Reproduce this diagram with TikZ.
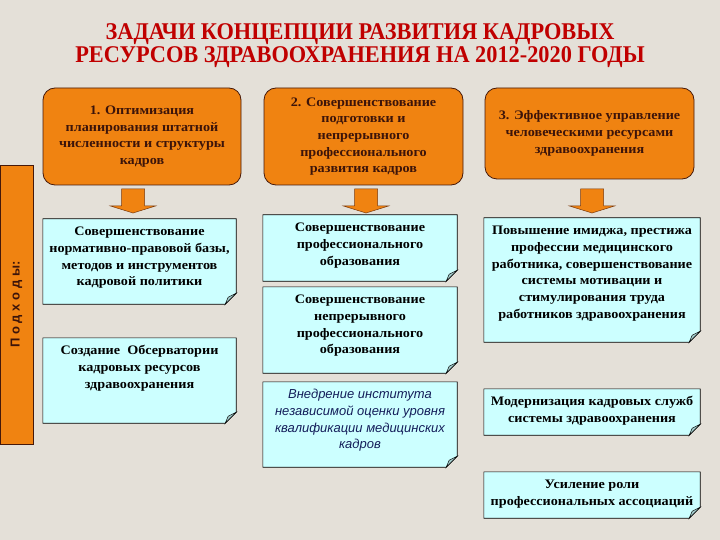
\documentclass[tikz,border=0pt]{standalone}
\usepackage{fontspec}
\setmainfont{Liberation Serif}[FakeStretch=1.09]
\newfontfamily\titlefont{Liberation Serif}[FakeStretch=0.93]
\newfontfamily\barfont{Liberation Sans}[WordSpace=2.8]
\newfontfamily\notefont{Liberation Sans}

\definecolor{pagebg}{RGB}{228,224,216}
\definecolor{titlered}{RGB}{192,0,0}
\definecolor{taskfill}{RGB}{240,131,17}
\definecolor{taskedge}{RGB}{70,25,10}
\definecolor{tasktext}{RGB}{60,20,10}
\definecolor{notefill}{RGB}{204,255,255}
\definecolor{notefold}{RGB}{163,204,204}
\definecolor{notenavy}{RGB}{20,30,90}

\newcommand{\bodyfont}{\fontsize{13}{16.7}\selectfont\bfseries}
% text of a note, hung from the top of its box
\newcommand{\notebody}[3]{\parbox[c][#2][t]{#1}{\centering\strut#3}}

\tikzset{
  taskbox/.style={draw=taskedge, line width=0.8pt, fill=taskfill, rounded corners=12pt,
    align=center, text=tasktext, font=\bodyfont, inner sep=2pt},
  notebox/.style={fill=notefill, font=\bodyfont, inner xsep=4pt, inner ysep=5pt},
  barbox/.style={draw=taskedge, line width=0.6pt, fill=taskfill, text=tasktext,
    font=\barfont\bfseries\fontsize{13}{15}\selectfont, rotate=90, inner sep=0pt},
  downarrow/.pic={
    \filldraw[fill=taskfill, draw=taskedge!70!taskfill, line width=0.5pt]
      (-11.5,0) -- (11.5,0) -- (11.5,17) -- (22.5,17) -- (0,24)
      -- (-22.5,17) -- (-11.5,17) -- cycle;
  }
}

\begin{document}
\begin{tikzpicture}[x=1pt,y=-1pt]
  \fill[pagebg] (0,0) rectangle (720,540);
  \useasboundingbox (0,0) rectangle (720,540);

  \node[align=center, text=titlered, font=\titlefont\bfseries\fontsize{24}{23}\selectfont]
    (title) at (360,46) {ЗАДАЧИ КОНЦЕПЦИИ РАЗВИТИЯ КАДРОВЫХ\\РЕСУРСОВ ЗДРАВООХРАНЕНИЯ НА 2012-2020 ГОДЫ};

  % tasks
  \node[taskbox, minimum width=198pt, minimum height=97pt] (task1) at (142,136.5)
    {1. Оптимизация\\планирования штатной\\численности и структуры\\кадров};
  \node[taskbox, minimum width=199pt, minimum height=97pt] (task2) at (363.5,136.5)
    {2. Совершенствование\\подготовки и\\непрерывного\\профессионального\\развития кадров};
  \node[taskbox, minimum width=209pt, minimum height=91pt] (task3) at (589.5,133.5)
    {3. Эффективное управление\\человеческими ресурсами\\здравоохранения};

  \node[barbox, minimum width=279pt, minimum height=33pt] (appr) at (16.5,304.5) {П о д х о д ы:};

  \foreach \name/\ax in {a1/133, a2/366, a3/592} {
    \coordinate (\name) at (\ax,189);
    \pic at (\name) {downarrow};
  }

  % approaches
  \node[notebox] (n11) at (139.5,261.5)
    {\notebody{185pt}{75pt}{Совершенствование\\нормативно-правовой базы,\\методов и инструментов\\кадровой политики}};
  \node[notebox] (n12) at (139.5,380.5)
    {\notebody{185pt}{75pt}{Создание\ \ Обсерватории\\кадровых ресурсов\\здравоохранения}};
  \node[notebox] (n21) at (360,248)
    {\notebody{186pt}{56pt}{Совершенствование\\профессионального\\образования}};
  \node[notebox] (n22) at (360,330)
    {\notebody{186pt}{76pt}{Совершенствование\\непрерывного\\профессионального\\образования}};
  \node[notebox, text=notenavy, font=\notefont\itshape\fontsize{13}{16.7}\selectfont] (n23) at (360,424.5)
    {\notebody{186pt}{75pt}{Внедрение института\\независимой оценки уровня\\квалификации медицинских\\кадров}};
  \node[notebox] (n31) at (592,280)
    {\notebody{208pt}{114pt}{Повышение имиджа, престижа\\профессии медицинского\\работника, совершенствование\\системы мотивации и\\стимулирования труда\\работников здравоохранения}};
  \node[notebox] (n32) at (592,412)
    {\notebody{208pt}{36pt}{Модернизация кадровых служб\\системы здравоохранения}};
  \node[notebox] (n33) at (592,495)
    {\notebody{208pt}{36pt}{Усиление роли\\профессиональных ассоциаций}};

  % folded corners
  \foreach \n in {n11,n12,n21,n22,n23,n31,n32,n33} {
    \fill[pagebg] ([xshift=-11pt]\n.south east) -- (\n.south east) -- ([yshift=11pt]\n.south east) -- cycle;
    \draw[line width=0.6pt] (\n.north west) -- (\n.north east) -- ([yshift=11pt]\n.south east)
      -- ([xshift=-11pt]\n.south east) -- (\n.south west) -- cycle;
    \filldraw[fill=notefold, line width=0.5pt] ([xshift=-11pt]\n.south east) -- ([yshift=11pt]\n.south east)
      -- ([xshift=-8pt,yshift=7pt]\n.south east) -- cycle;
  }
\end{tikzpicture}
\end{document}
